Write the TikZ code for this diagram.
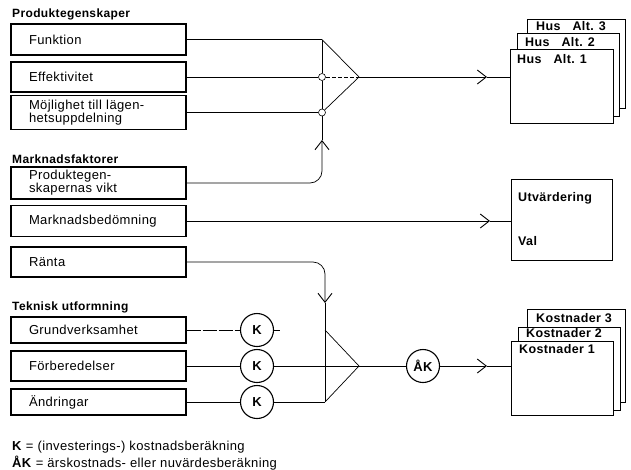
\documentclass[tikz,border=0pt]{standalone}
\usepackage{fontspec}
\setmainfont{Liberation Sans}[LetterSpace=3]
\usetikzlibrary{arrows.meta}

\tikzset{
  inbox/.style={draw, line width=1.2pt, minimum width=175pt, text width=139pt,
    inner xsep=18pt, inner ysep=1pt, align=left,
    font=\fontsize{13}{13}\selectfont},
  heading/.style={anchor=base west, inner sep=0pt,
    font=\bfseries\fontsize{12}{12}\selectfont},
  sheet/.style={draw, line width=1pt, fill=white, inner sep=0pt},
  sheetlabel/.style={anchor=base west, inner sep=0pt,
    font=\bfseries\fontsize{12.5}{12.5}\selectfont},
  legend/.style={anchor=base west, inner sep=0pt,
    font=\fontsize{13}{13}\selectfont},
  conn/.style={line width=0.7pt},
  openarrow/.style={-{Straight Barb[length=9pt,width=14pt,line width=0.9pt]}},
  kcirc/.style={circle, draw, line width=1.1pt, minimum size=33pt, inner sep=0pt,
    font=\bfseries\fontsize{13}{13}\selectfont},
  cross/.style={circle, draw, line width=0.6pt, minimum size=7pt, inner sep=0pt},
}

\begin{document}
\begin{tikzpicture}[x=1pt, y=-1pt]
\useasboundingbox (0,0) rectangle (631,469);

% section headings
\node[heading] (h1) at (12,17) {Produktegenskaper};
\node[heading] (h2) at (12,163) {Marknadsfaktorer};
\node[heading] (h3) at (12,310) {Teknisk utformning};

% input boxes
\node[inbox, minimum height=31pt] (funk)  at (98.5,39.5) {Funktion};
\node[inbox, minimum height=30pt] (eff)   at (98.5,77)   {Effektivitet};
\node[inbox, minimum height=34pt] (mojl)  at (98.5,112.5) {Möjlighet till lägen-\\hetsuppdelning};
\node[inbox, minimum height=32pt] (pvikt) at (98.5,183)  {Produktegen-\\skapernas vikt};
\node[inbox, minimum height=31pt] (mbed)  at (98.5,221)  {Marknadsbedömning};
\node[inbox, minimum height=30pt] (ranta) at (98.5,262)  {Ränta};
\node[inbox, minimum height=26pt] (grund) at (98.5,330)  {Grundverksamhet};
\node[inbox, minimum height=30pt] (forb)  at (98.5,366)  {Förberedelser};
\node[inbox, minimum height=26pt] (andr)  at (98.5,402)  {Ändringar};

% stacked result sheets: houses
\node[sheet, minimum width=98pt,  minimum height=89pt] (hus3) at (576,63.5) {};
\node[sheet, minimum width=102pt, minimum height=83pt] (hus2) at (568,74.5) {};
\node[sheet, minimum width=103pt, minimum height=74pt] (hus1) at (561.5,86) {};
\node[sheetlabel] (lh3) at (536,30) {Hus\hspace{12pt}Alt. 3};
\node[sheetlabel] (lh2) at (525,46) {Hus\hspace{12pt}Alt. 2};
\node[sheetlabel] (lh1) at (517,63) {Hus\hspace{12pt}Alt. 1};

% evaluation box
\node[sheet, minimum width=101pt, minimum height=81pt] (utv) at (561.5,219.5) {};
\node[sheetlabel] (lutv) at (518,201) {Utvärdering};
\node[sheetlabel] (lval) at (518,245) {Val};

% stacked result sheets: costs
\node[sheet, minimum width=98pt,  minimum height=93pt] (kost3) at (576,355.5) {};
\node[sheet, minimum width=102pt, minimum height=83pt] (kost2) at (569,368.5) {};
\node[sheet, minimum width=102pt, minimum height=74pt] (kost1) at (562,378) {};
\node[sheetlabel] (lk3) at (536,322) {Kostnader 3};
\node[sheetlabel] (lk2) at (526,337) {Kostnader 2};
\node[sheetlabel] (lk1) at (519,353) {Kostnader 1};

% upper junction
\coordinate (tj1) at (322,39.5);
\node[cross] (tj2) at (322,77) {};
\node[cross] (tj3) at (322,112.5) {};
\coordinate (ta) at (359,77);
\coordinate (upa) at (322,140);
\coordinate (harr) at (487,77);

\draw[conn] (funk.east) -- (tj1);
\draw[conn] (eff.east) -- (tj2);
\draw[conn, line width=0.4pt, dash pattern=on 4pt off 2pt] (tj2) -- (ta);
\draw[conn] (mojl.east) -- (tj3);
\draw[conn] (tj1) -- (tj2);
\draw[conn] (tj2) -- (tj3);
\draw[conn] (tj3) -- (upa);
\draw[conn] (tj1) -- (ta) -- (tj3);
\draw[conn, rounded corners=12pt, openarrow] (pvikt.east) -- (pvikt.east -| upa) -- (upa);
\draw[conn, openarrow] (ta) -- (harr);
\draw[conn] (harr) -- (hus1.west |- harr);

% market assessment
\coordinate (marr) at (490,221);
\draw[conn, openarrow] (mbed.east) -- (marr);
\draw[conn] (marr) -- (utv.west |- marr);

% cost calculations
\node[kcirc] (k1) at (257,330) {K};
\node[kcirc] (k2) at (257,366) {K};
\node[kcirc] (k3) at (257,402) {K};
\node[kcirc] (ak) at (423,366) {ÅK};
\coordinate (k1s) at (280,330);
\coordinate (dna) at (325,303);
\coordinate (bj1) at (325,330);
\coordinate (bj3) at (325,402);
\coordinate (ba) at (359,366);
\coordinate (karr) at (487,366);

\draw[conn, line width=0.5pt, dash pattern=on 14pt off 2pt] (grund.east) -- (k1);
\draw[conn] (k1) -- (k1s);
\draw[conn] (forb.east) -- (k2);
\draw[conn] (k2) -- (ak);
\draw[conn] (andr.east) -- (k3);
\draw[conn] (k3) -- (bj3);
\draw[conn, rounded corners=12pt, openarrow] (ranta.east) -- (ranta.east -| dna) -- (dna);
\draw[conn] (dna) -- (bj3);
\draw[conn] (bj1) -- (ba) -- (bj3);
\draw[conn, openarrow] (ak) -- (karr);
\draw[conn] (karr) -- (kost1.west |- karr);

% legend
\node[legend] (leg1) at (12,450) {\textbf{K} = (investerings-) kostnadsberäkning};
\node[legend] (leg2) at (12,467) {\textbf{ÅK} = ärskostnads- eller nuvärdesberäkning};
\end{tikzpicture}
\end{document}
